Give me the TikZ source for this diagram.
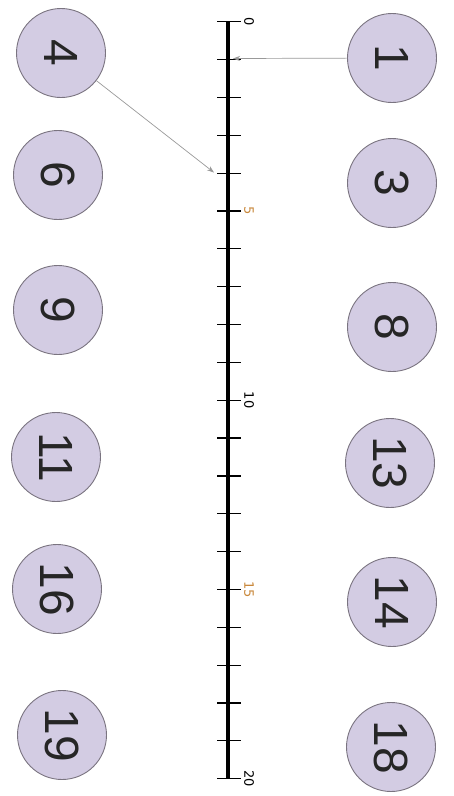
\documentclass[tikz,border=0pt]{standalone}
\usepackage{fontspec}
\setmainfont{Liberation Sans}
\newfontfamily\labfont{DejaVu Sans}
\usetikzlibrary{arrows.meta,calc}
\definecolor{circfill}{HTML}{D3CCE3}
\definecolor{circline}{HTML}{7A7480}
\definecolor{orangelab}{HTML}{C8873A}
\tikzset{
  ball/.style={circle, draw=circline, line width=0.9pt, fill=circfill, minimum size=89pt, inner sep=0pt, font=\fontsize{48}{48}\selectfont, text=black!85, rotate=-90},
  tickl/.style={font=\labfont\fontsize{13}{13}\selectfont, rotate=-90, inner sep=0pt},
  pointer/.style={draw=gray!80, line width=0.7pt, -{Stealth[length=7pt,width=5pt]}}
}
\begin{document}
\begin{tikzpicture}[x=1pt,y=-1pt]
\useasboundingbox (0,0) rectangle (453,796);
% number line
\coordinate (n0) at (228,21.7);
\coordinate (n20) at (228,778.7);
\draw[line width=4.5pt] (n0) -- (n20);
\foreach \i in {0,...,20}{
  \coordinate (t\i) at (228,{21.7+\i*37.85});
  \draw[line width=1.2pt] ($(t\i)+(-11,0)$) -- ($(t\i)+(13,0)$);
}
\foreach \i/\c in {0/black,5/orangelab,10/black,15/orangelab,20/black}{
  \node[tickl, text=\c, anchor=south] (l\i) at ($(t\i)+(16,0)$) {\i};
}
% balls
\node[ball] (b4) at (61,53) {4};
\node[ball] (b6) at (58,175) {6};
\node[ball] (b9) at (58,310) {9};
\node[ball] (b11) at (56,457) {11};
\node[ball] (b16) at (57,589) {16};
\node[ball] (b19) at (62,735) {19};
\node[ball] (b1) at (392,58) {1};
\node[ball] (b3) at (392,183) {3};
\node[ball] (b8) at (392,327) {8};
\node[ball] (b13) at (390,463) {13};
\node[ball] (b14) at (392,602) {14};
\node[ball] (b18) at (391,747) {18};
% pointers
\coordinate (p1) at (233,58.5);
\coordinate (p4) at (214,172.5);
\draw[pointer] (b1) -- (p1);
\draw[pointer] (b4) -- (p4);
\end{tikzpicture}
\end{document}
